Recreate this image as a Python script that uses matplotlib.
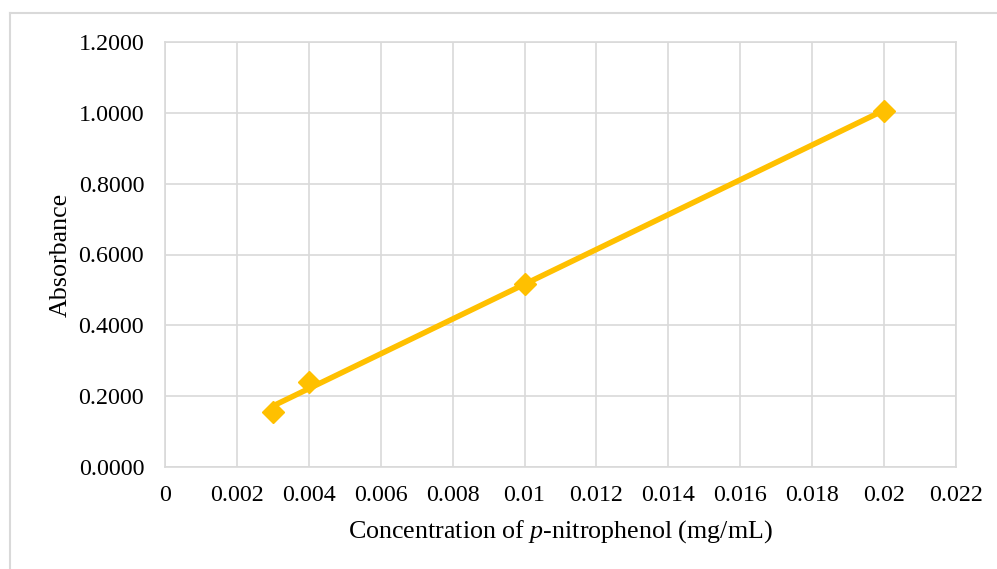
import numpy as np
import matplotlib
matplotlib.use("Agg")
import matplotlib.pyplot as plt
from matplotlib.lines import Line2D
from matplotlib.ticker import FormatStrFormatter, FixedLocator

# Calibration data: p-nitrophenol concentration vs absorbance
concentration = [0.003, 0.004, 0.01, 0.02]
absorbance = [0.155, 0.239, 0.517, 1.006]

x_ticks = [0, 0.002, 0.004, 0.006, 0.008, 0.01, 0.012, 0.014, 0.016, 0.018, 0.02, 0.022]
x_tick_labels = ["0", "0.002", "0.004", "0.006", "0.008", "0.01", "0.012",
                 "0.014", "0.016", "0.018", "0.02", "0.022"]
y_ticks = [0.0, 0.2, 0.4, 0.6, 0.8, 1.0, 1.2]

plt.rcParams["font.family"] = ["Liberation Serif", "DejaVu Serif"]
plt.rcParams["mathtext.fontset"] = "custom"
plt.rcParams["mathtext.it"] = "Liberation Serif:italic"
plt.rcParams["mathtext.rm"] = "Liberation Serif"

gold = "#FFC000"
grid_col = "#D9D9D9"

fig = plt.figure(figsize=(9.97, 5.69), dpi=100)
ax = fig.add_axes([165 / 997, 1 - 467 / 569, (956 - 165) / 997, (467 - 42) / 569])

# Linear trendline across the measured range
slope, intercept = np.polyfit(concentration, absorbance, 1)
xs = np.array([min(concentration), max(concentration)])
ax.plot(xs, slope * xs + intercept, color=gold, lw=4, solid_capstyle="butt", zorder=3)

ax.plot(concentration, absorbance, linestyle="none", marker="D", markersize=11,
        color=gold, markeredgecolor=gold, zorder=4)

ax.set_xlim(0, 0.022)
ax.set_ylim(0, 1.2)
ax.xaxis.set_major_locator(FixedLocator(x_ticks))
ax.set_xticklabels(x_tick_labels)
ax.set_yticks(y_ticks)
ax.yaxis.set_major_formatter(FormatStrFormatter("%.4f"))

ax.grid(True, color=grid_col, lw=1.2, zorder=0)
ax.set_axisbelow(True)
for s in ax.spines.values():
    s.set_color(grid_col)
    s.set_linewidth(1.2)
ax.tick_params(length=0, labelsize=17.3, colors="#000000")
ax.tick_params(axis="x", pad=13)
ax.tick_params(axis="y", pad=15)

ax.set_xlabel(r"Concentration of $\it{p}$-nitrophenol (mg/mL)", fontsize=18.7, labelpad=9)
ax.set_ylabel("Absorbance", fontsize=18.7, labelpad=5)

# Chart frame (left and top edges)
fig.add_artist(Line2D([10 / 997, 10 / 997], [0, 1 - 13 / 569], transform=fig.transFigure,
                      color=grid_col, lw=1.5))
fig.add_artist(Line2D([10 / 997, 1], [1 - 13 / 569, 1 - 13 / 569], transform=fig.transFigure,
                      color=grid_col, lw=1.5))

fig.savefig("out.png", dpi=100, facecolor="white")
